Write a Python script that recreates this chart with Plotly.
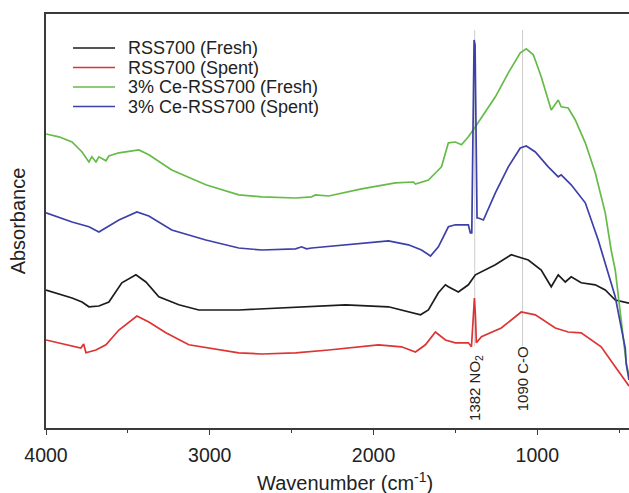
import plotly.graph_objects as go

# FTIR spectra (absorbance, arbitrary units, offset for clarity)
wn_fresh = [4000, 3841, 3780, 3738, 3677, 3616, 3537, 3451, 3390, 3311, 3189, 3067,
            2823, 2683, 2476, 2171, 1909, 1787, 1713, 1665, 1604, 1561, 1543, 1482,
            1421, 1378, 1256, 1159, 1055, 976, 915, 872, 829, 793, 732, 646, 585,
            524, 457, 440]
abs_fresh = [0.345, 0.325, 0.315, 0.303, 0.305, 0.315, 0.363, 0.383, 0.365, 0.328,
             0.308, 0.295, 0.295, 0.298, 0.303, 0.308, 0.303, 0.290, 0.283, 0.295,
             0.338, 0.358, 0.353, 0.340, 0.358, 0.383, 0.408, 0.433, 0.420, 0.395,
             0.353, 0.383, 0.365, 0.378, 0.363, 0.358, 0.345, 0.320, 0.315, 0.312]

wn_spent = [4000, 3841, 3787, 3770, 3756, 3695, 3634, 3555, 3445, 3372, 3268, 3128,
            2823, 2683, 2476, 2274, 1970, 1829, 1744, 1683, 1622, 1561, 1500, 1421,
            1402, 1392, 1384, 1378, 1372, 1341, 1311, 1220, 1098, 1012, 890, 811,
            732, 610, 524, 457, 440]
abs_spent = [0.220, 0.205, 0.200, 0.210, 0.188, 0.195, 0.208, 0.245, 0.280, 0.265,
             0.238, 0.208, 0.188, 0.185, 0.188, 0.195, 0.208, 0.203, 0.190, 0.208,
             0.240, 0.220, 0.213, 0.213, 0.203, 0.270, 0.325, 0.283, 0.213, 0.228,
             0.233, 0.250, 0.290, 0.283, 0.250, 0.240, 0.238, 0.203, 0.153, 0.115,
             0.105]

wn_ce_fresh = [4000, 3921, 3841, 3780, 3738, 3720, 3695, 3677, 3634, 3616, 3555,
               3433, 3372, 3232, 3024, 2823, 2683, 2476, 2378, 2354, 2274, 2073,
               1866, 1756, 1744, 1665, 1604, 1585, 1543, 1500, 1463, 1421, 1378,
               1256, 1177, 1104, 1067, 1024, 976, 915, 872, 854, 811, 768, 707,
               646, 585, 549, 524, 488, 457, 440]
abs_ce_fresh = [0.735, 0.728, 0.715, 0.690, 0.665, 0.678, 0.665, 0.678, 0.668,
                0.680, 0.688, 0.695, 0.683, 0.645, 0.608, 0.583, 0.578, 0.575,
                0.578, 0.583, 0.580, 0.598, 0.613, 0.615, 0.610, 0.620, 0.645,
                0.653, 0.713, 0.715, 0.708, 0.728, 0.753, 0.828, 0.888, 0.938,
                0.948, 0.933, 0.878, 0.795, 0.820, 0.803, 0.800, 0.770, 0.713,
                0.638, 0.538, 0.445, 0.395, 0.278, 0.163, 0.130]

wn_ce_spent = [4000, 3841, 3738, 3677, 3555, 3445, 3372, 3232, 3024, 2823, 2683,
               2476, 2439, 2410, 2378, 2171, 1909, 1787, 1707, 1652, 1604, 1543,
               1500, 1421, 1409, 1400, 1392, 1386, 1380, 1375, 1368, 1360, 1329,
               1256, 1177, 1104, 1067, 1012, 933, 872, 854, 793, 707, 628, 585,
               524, 463, 457, 440]
abs_ce_spent = [0.538, 0.515, 0.503, 0.490, 0.520, 0.540, 0.530, 0.495, 0.470,
                0.450, 0.445, 0.448, 0.453, 0.448, 0.450, 0.458, 0.468, 0.458,
                0.445, 0.430, 0.453, 0.503, 0.508, 0.508, 0.488, 0.488, 0.770,
                0.970, 0.958, 0.695, 0.525, 0.525, 0.520, 0.588, 0.653, 0.700,
                0.705, 0.690, 0.653, 0.628, 0.633, 0.608, 0.563, 0.470, 0.413,
                0.328, 0.200, 0.160, 0.120]

series_names = ["RSS700 (Fresh)", "RSS700 (Spent)",
                "3% Ce-RSS700 (Fresh)", "3% Ce-RSS700 (Spent)"]
series_colors = ["#1c1c1c", "#dd3333", "#66bb48", "#3c40a8"]

# Marked bands
band_positions = [1382, 1090]
band_labels = ["1382 NO<sub>2</sub>", "1090 C-O"]

x_ticks = [4000, 3000, 2000, 1000]

FONT = "Liberation Sans, Arial, sans-serif"
TEXT = "#222222"
AXIS = "#3a3a3a"

fig = go.Figure()

series = [(wn_fresh, abs_fresh), (wn_spent, abs_spent),
          (wn_ce_fresh, abs_ce_fresh), (wn_ce_spent, abs_ce_spent)]
for (xs, ys), name, color in zip(series, series_names, series_colors):
    fig.add_trace(go.Scatter(x=xs, y=ys, mode="lines", name=name,
                             line=dict(color=color, width=1.7),
                             showlegend=False))

# Gray guide lines and rotated labels for the marked bands
for pos, label, ybot in zip(band_positions, band_labels, [0.012, 0.037]):
    fig.add_shape(type="line", xref="x", yref="y", x0=pos, x1=pos,
                  y0=0.205, y1=0.995, layer="below",
                  line=dict(color="#cccccc", width=1))
    fig.add_annotation(x=pos, y=ybot, xref="x", yref="y", text=label,
                       textangle=-90, showarrow=False, xanchor="center",
                       yanchor="bottom", font=dict(family=FONT, size=15, color=TEXT))

# Legend drawn as line samples with labels
W, H = 629, 493
L, R, T, B = 46, 0, 14, 65
pw, ph = W - L - R, H - T - B
legend_rows = [48, 67.5, 87, 106.5]
for name, color, py in zip(series_names, series_colors, legend_rows):
    yp = (H - B - py) / ph
    fig.add_shape(type="line", xref="paper", yref="paper",
                  x0=(73 - L) / pw, x1=(115 - L) / pw, y0=yp, y1=yp,
                  line=dict(color=color, width=1.7))
    fig.add_annotation(x=(126 - L) / pw, y=yp, xref="paper", yref="paper",
                       text=name, showarrow=False, xanchor="left", yanchor="middle",
                       font=dict(family=FONT, size=18, color=TEXT))

# x-axis title, centred under the scale
fig.add_annotation(x=(345 - L) / pw, y=-(482 - (H - B)) / ph, xref="paper",
                   yref="paper", text="Wavenumber (cm<sup>-1</sup>)",
                   showarrow=False, xanchor="center", yanchor="middle",
                   font=dict(family=FONT, size=20, color=TEXT))

fig.update_layout(
    width=W, height=H,
    margin=dict(l=L, r=R, t=T, b=B),
    paper_bgcolor="white", plot_bgcolor="white",
    font=dict(family=FONT, size=19, color=TEXT),
    xaxis=dict(range=[4000, 440], tickvals=x_ticks,
               ticks="outside", ticklen=5, tickwidth=1.3, tickcolor=AXIS,
               minor=dict(dtick=500, ticks="outside", ticklen=3, tickwidth=1.2,
                          tickcolor=AXIS),
               ticklabelstandoff=4,
               showline=True, linecolor=AXIS, linewidth=1.6, mirror=True,
               showgrid=False, zeroline=False,
               tickfont=dict(family=FONT, size=19.5, color=TEXT)),
    yaxis=dict(range=[0, 1.035], showticklabels=False, ticks="",
               showline=True, linecolor=AXIS, linewidth=1.6,
               showgrid=False, zeroline=False,
               title=dict(text="Absorbance", standoff=13,
                          font=dict(family=FONT, size=20, color=TEXT))),
)

fig.write_html("out.html")
